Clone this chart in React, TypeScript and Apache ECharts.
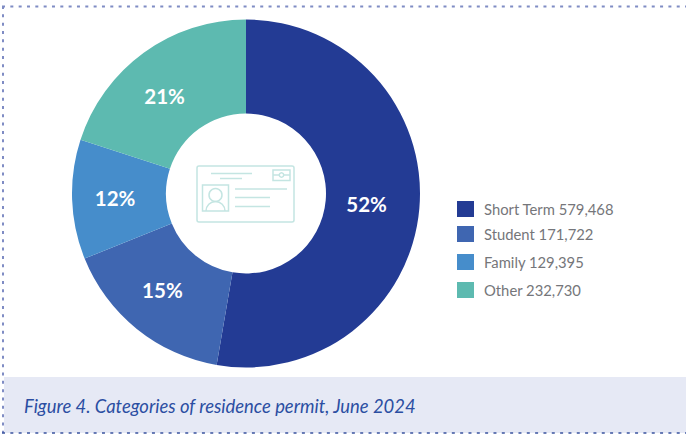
import React, { useEffect, useRef } from "react";
import * as echarts from "echarts";

const categories = ["Short Term", "Student", "Family", "Other"];
// Counts and percentages as printed in the reference.
const counts = [579468, 171722, 129395, 232730];
const percentLabels = ["52%", "15%", "12%", "21%"];
// Slice sizes as measured from the reference's drawn boundaries (in %): these
// differ slightly from the printed counts, in the source picture itself.
const sliceShares = [52.7, 16.2, 11.1, 20.0];
const colors = ["#233b94", "#3f66b1", "#468dcb", "#5dbab0"];
const legendTops = [201, 226, 254, 282];
const labelOffsets = [[-9, -1], [-2, -5], [-1, 0], [-5, 8]];
const caption = "Figure 4. Categories of residence permit, June 2024";
const iconColor = "#c4e5e2";
const FONT = "Lato, 'Open Sans', sans-serif";

const lineStyle = { stroke: iconColor, lineWidth: 1.5, fill: "none" };
const ln = (x1: number, y1: number, x2: number, y2: number) => ({
  type: "line", z: 10, shape: { x1, y1, x2, y2 }, style: { ...lineStyle },
});
const rc = (x: number, y: number, width: number, height: number, r = 0) => ({
  type: "rect", z: 10, shape: { x, y, width, height, r }, style: { ...lineStyle },
});
const dash = (x1: number, y1: number, x2: number, y2: number, stroke: string, lineWidth: number) => ({
  type: "line", z: 20, shape: { x1, y1, x2, y2 },
  style: { stroke, lineWidth, lineDash: [3, 5.33] },
});

export default function App() {
  const ref = useRef<HTMLDivElement>(null);
  useEffect(() => {
    const chart = echarts.init(ref.current!, null, { renderer: "svg" });
    chart.setOption({
      animation: false,
      backgroundColor: "#ffffff",
      textStyle: { fontFamily: FONT },
      color: colors,
      legend: categories.map((name, i) => ({
        orient: "vertical",
        left: 457,
        top: legendTops[i],
        padding: 0,
        icon: "rect",
        itemWidth: 17,
        itemHeight: 16,
        selectedMode: false,
        data: [name],
        formatter: (n: string) =>
          `${n} ${counts[categories.indexOf(n)].toLocaleString("en-US")}`,
        textStyle: { color: "#75767a", fontSize: 14.8, fontFamily: FONT, padding: [0, 0, 0, 5] },
      })),
      graphic: [
        { type: "rect", z: 0, shape: { x: 4, y: 377, width: 682, height: 56 }, style: { fill: "#e6e9f5" } },
        {
          type: "text", z: 5, x: 24, y: 406,
          style: {
            text: caption, fill: "#2b4ea2", fontSize: 18.4, fontStyle: "italic",
            fontFamily: FONT, verticalAlign: "middle",
          },
        },
        dash(2, 6.5, 686, 6.5, "#7f8cc4", 2),
        dash(3, 6, 3, 433, "#7f8cc4", 2),
        dash(2, 433, 686, 433, "#3a539f", 1.5),
        rc(197, 166, 97, 56, 2),
        rc(202.5, 185, 26, 26),
        rc(273, 170, 17, 10.5),
        ln(273, 175, 290, 175),
        { type: "circle", z: 10, shape: { cx: 281.5, cy: 175, r: 2.2 }, style: { stroke: iconColor, lineWidth: 1.5, fill: "#ffffff" } },
        ln(211, 173.5, 252, 173.5),
        ln(220, 178.5, 242, 178.5),
        ln(235, 189, 287, 189),
        ln(235, 197.5, 270, 197.5),
        ln(235, 206.5, 270, 206.5),
        { type: "circle", z: 10, shape: { cx: 215.5, cy: 195, r: 6.5 }, style: { ...lineStyle } },
        { type: "arc", z: 10, shape: { cx: 215.5, cy: 211, r: 9.5, startAngle: Math.PI, endAngle: 2 * Math.PI, clockwise: true }, style: { ...lineStyle } },
      ],
      series: [
        {
          type: "pie",
          center: [246, 193.5],
          radius: [80, 174],
          startAngle: 90,
          label: {
            show: true,
            position: "inside",
            formatter: (p: any) => percentLabels[p.dataIndex],
            color: "#ffffff",
            fontSize: 20.5,
            fontWeight: "bold",
            fontFamily: FONT,
          },
          labelLine: { show: false },
          emphasis: { disabled: true },
          data: categories.map((name, i) => ({
            name,
            value: sliceShares[i],
            itemStyle: { color: colors[i] },
            label: { offset: labelOffsets[i] },
          })),
        },
      ],
    });
    return () => chart.dispose();
  }, []);
  return (
    <div
      ref={ref}
      style={{ position: "absolute", left: 0, top: 0, width: 686, height: 436 }}
    />
  );
}
